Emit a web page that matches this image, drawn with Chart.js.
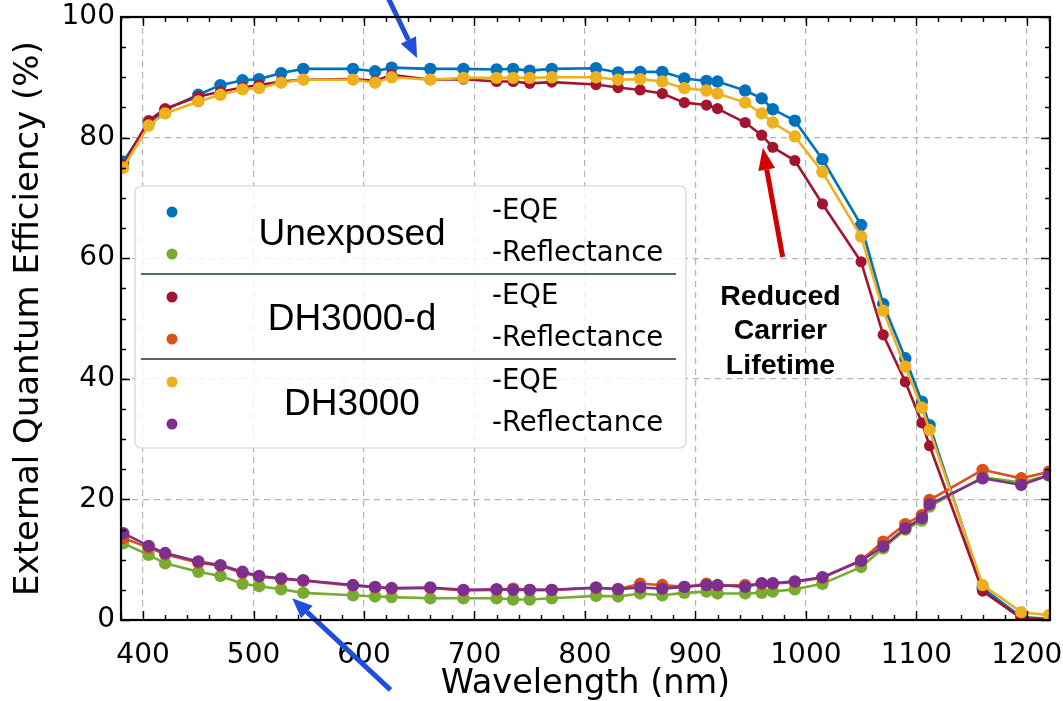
<!DOCTYPE html>
<html>
<head>
<meta charset="utf-8">
<script src="https://cdn.jsdelivr.net/npm/chart.js@4.4.1/dist/chart.umd.min.js"></script>
<style>
  html, body { margin: 0; padding: 0; background: #fff; }
  #wrap { width: 1063px; height: 701px; }
</style>
</head>
<body>
<div id="wrap"><canvas id="eqeChart"></canvas></div>
<script>
// wavelength grid shared by every measurement (nm)
const wavelengths = [382, 405, 420, 450, 470, 490, 505, 525, 545, 590, 610, 625, 660, 690, 720, 735, 750, 770, 810, 830,
  850, 870, 890, 910, 920, 945, 960, 970, 990, 1015, 1050, 1070, 1090, 1105, 1112, 1160, 1195, 1220];

// EQE (%)
const unexposedEqe = [76.0, 82.4, 84.6, 87.1, 88.7, 89.5, 89.7, 90.7, 91.4, 91.4, 91.0, 91.6, 91.4, 91.4, 91.3, 91.4, 91.1, 91.4, 91.5, 90.8,
  90.9, 90.9, 89.8, 89.4, 89.3, 87.8, 86.5, 84.7, 82.8, 76.4, 65.5, 52.4, 43.4, 36.2, 32.3, 5.3, 0.5, 0.2];
const dh3000dEqe = [75.5, 82.8, 84.8, 86.8, 87.6, 88.3, 88.7, 89.3, 89.6, 89.7, 89.4, 90.4, 89.6, 89.7, 89.3, 89.3, 89.0, 89.2, 88.8, 88.3,
  87.9, 87.3, 85.8, 85.4, 84.8, 82.5, 80.4, 78.4, 76.2, 69.0, 59.4, 47.3, 39.5, 32.7, 28.9, 4.8, 0.3, 0.0];
const dh3000Eqe = [75.0, 82.0, 84.0, 86.0, 87.1, 88.0, 88.2, 89.1, 89.6, 89.6, 89.1, 90.0, 89.6, 89.9, 89.9, 89.9, 89.9, 90.0, 90.0, 89.6,
  89.7, 89.3, 88.2, 87.8, 87.3, 85.8, 84.0, 82.5, 80.2, 74.3, 63.6, 51.3, 42.0, 35.2, 31.5, 5.8, 1.3, 0.8];

// Reflectance (%)
const unexposedRefl = [12.7, 10.8, 9.4, 8.0, 7.3, 6.0, 5.6, 5.1, 4.5, 4.1, 3.9, 3.8, 3.6, 3.6, 3.6, 3.4, 3.4, 3.6, 4.0, 3.9,
  4.4, 4.1, 4.5, 4.7, 4.4, 4.4, 4.5, 4.7, 5.1, 6.0, 8.8, 11.9, 15.0, 16.5, 18.8, 23.7, 22.8, 24.0];
const dh3000dRefl = [13.6, 12.0, 10.9, 9.5, 9.0, 7.8, 7.2, 6.8, 6.5, 5.7, 5.4, 5.2, 5.3, 4.9, 5.0, 5.2, 5.0, 5.0, 5.3, 5.1,
  6.0, 5.8, 5.5, 6.0, 5.7, 5.8, 6.0, 6.0, 6.3, 7.0, 9.9, 13.0, 15.9, 17.4, 19.9, 24.9, 23.5, 24.6];
const dh3000Refl = [14.4, 12.3, 11.1, 9.7, 9.1, 8.0, 7.3, 6.9, 6.6, 5.8, 5.5, 5.3, 5.4, 5.0, 5.1, 5.0, 5.0, 5.0, 5.4, 5.1,
  5.4, 5.2, 5.5, 5.8, 5.8, 5.5, 6.1, 6.1, 6.4, 7.1, 9.8, 12.2, 15.2, 16.9, 19.2, 23.5, 22.4, 24.0];

const xTicks = [400, 500, 600, 700, 800, 900, 1000, 1100, 1200];
const yTicks = [0, 20, 40, 60, 80, 100];

const groups = ['Unexposed', 'DH3000-d', 'DH3000'];
const series = [
  { label: 'Unexposed -EQE', values: unexposedEqe, color: '#0072BD', order: 6 },
  { label: 'Unexposed -Reflectance', values: unexposedRefl, color: '#77AC30', order: 5 },
  { label: 'DH3000-d -EQE', values: dh3000dEqe, color: '#A2142F', order: 4 },
  { label: 'DH3000-d -Reflectance', values: dh3000dRefl, color: '#D95319', order: 3 },
  { label: 'DH3000 -EQE', values: dh3000Eqe, color: '#EDB120', order: 2 },
  { label: 'DH3000 -Reflectance', values: dh3000Refl, color: '#7E2F8E', order: 1 }
];

function toPoints(values) {
  return wavelengths.map((w, i) => ({ x: w, y: values[i] }));
}

function arrow(ctx, x1, y1, x2, y2, color, shaft, headLen, headW) {
  const ang = Math.atan2(y2 - y1, x2 - x1);
  const bx = x2 - headLen * Math.cos(ang);
  const by = y2 - headLen * Math.sin(ang);
  ctx.save();
  ctx.strokeStyle = color;
  ctx.fillStyle = color;
  ctx.lineWidth = shaft;
  ctx.beginPath();
  ctx.moveTo(x1, y1);
  ctx.lineTo(bx, by);
  ctx.stroke();
  ctx.beginPath();
  ctx.moveTo(x2, y2);
  ctx.lineTo(bx + headW / 2 * Math.sin(ang), by - headW / 2 * Math.cos(ang));
  ctx.lineTo(bx - headW / 2 * Math.sin(ang), by + headW / 2 * Math.cos(ang));
  ctx.closePath();
  ctx.fill();
  ctx.restore();
}

// frame with inward ticks on all four sides, legend table and annotations
const decorations = {
  id: 'decorations',
  afterDatasetsDraw(chart) {
    const { ctx, scales: { x, y } } = chart;

    // legend box
    ctx.save();
    const lx = 135, ly = 186, lw = 551, lh = 262;
    ctx.beginPath();
    ctx.roundRect(lx, ly, lw, lh, 6);
    ctx.fillStyle = 'rgba(255,255,255,0.82)';
    ctx.fill();
    ctx.strokeStyle = '#d4d4d4';
    ctx.lineWidth = 1.2;
    ctx.stroke();

    const rowY = [212, 254, 297, 339, 382, 424];
    series.forEach((s, i) => {
      ctx.beginPath();
      ctx.arc(172, rowY[i], 5.5, 0, Math.PI * 2);
      ctx.fillStyle = s.color;
      ctx.fill();
      ctx.fillStyle = '#000';
      ctx.font = '27.5px "DejaVu Sans"';
      ctx.textAlign = 'left';
      ctx.textBaseline = 'middle';
      ctx.fillText(i % 2 === 0 ? '-EQE' : '-Reflectance', 492, rowY[i]);
    });
    ctx.font = '37px "Liberation Sans", Arial';
    ctx.textAlign = 'center';
    groups.forEach((g, i) => {
      ctx.fillText(g, 352, (rowY[2 * i] + rowY[2 * i + 1]) / 2 + 2);
    });
    ctx.strokeStyle = '#1f3349';
    ctx.lineWidth = 1.5;
    [274, 359].forEach(yy => {
      ctx.beginPath();
      ctx.moveTo(141, yy);
      ctx.lineTo(676, yy);
      ctx.stroke();
    });
    ctx.restore();

    // annotations
    arrow(ctx, x.getPixelForValue(621), y.getPixelForValue(103.5), x.getPixelForValue(648), y.getPixelForValue(93.2), '#1f4fd8', 5, 20, 17);
    arrow(ctx, x.getPixelForValue(624), y.getPixelForValue(-11.6), x.getPixelForValue(535), y.getPixelForValue(3.6), '#1f4fd8', 5, 20, 17);
    arrow(ctx, x.getPixelForValue(979), y.getPixelForValue(60.2), x.getPixelForValue(961), y.getPixelForValue(78.3), '#d00000', 5, 22, 17);

    ctx.save();
    ctx.fillStyle = '#000';
    ctx.font = 'bold 28.5px "Liberation Sans", Arial';
    ctx.textAlign = 'center';
    ctx.textBaseline = 'middle';
    const tx = x.getPixelForValue(977);
    ['Reduced', 'Carrier', 'Lifetime'].forEach((t, i) => ctx.fillText(t, tx, 297 + i * 34.5));
    ctx.restore();
  },
  afterDraw(chart) {
    const { ctx, chartArea: a, scales: { x, y } } = chart;
    ctx.save();
    ctx.strokeStyle = '#000';
    ctx.lineWidth = 1.4;
    for (let v = 380; v <= 1220; v += 20) {
      const px = Math.round(x.getPixelForValue(v)) + 0.5;
      const len = v % 100 === 0 ? 9 : 5;
      ctx.beginPath();
      ctx.moveTo(px, a.bottom); ctx.lineTo(px, a.bottom - len);
      ctx.moveTo(px, a.top); ctx.lineTo(px, a.top + len);
      ctx.stroke();
    }
    for (let v = 0; v <= 100; v += 5) {
      const py = Math.round(y.getPixelForValue(v)) + 0.5;
      const len = v % 20 === 0 ? 9 : 5;
      ctx.beginPath();
      ctx.moveTo(a.left, py); ctx.lineTo(a.left + len, py);
      ctx.moveTo(a.right, py); ctx.lineTo(a.right - len, py);
      ctx.stroke();
    }
    ctx.lineWidth = 2.2;
    ctx.strokeRect(a.left, a.top, a.right - a.left, a.bottom - a.top);
    ctx.restore();
  }
};

Chart.defaults.font.family = '"DejaVu Sans"';
Chart.defaults.color = '#000';

new Chart(document.getElementById('eqeChart'), {
  type: 'scatter',
  data: {
    datasets: series.map(s => ({
      label: s.label,
      data: toPoints(s.values),
      showLine: true,
      borderColor: s.color,
      backgroundColor: s.color,
      borderWidth: 2.6,
      pointRadius: s.color === '#A2142F' ? 5.6 : 6.2,
      pointBorderWidth: 0,
      pointBackgroundColor: s.color,
      order: s.order
    }))
  },
  options: {
    responsive: true,
    maintainAspectRatio: false,
    animation: false,
    layout: { padding: { top: 17, right: 13, left: 0, bottom: 0 } },
    plugins: {
      legend: { display: false },
      tooltip: { enabled: false }
    },
    scales: {
      x: {
        type: 'linear',
        min: 380,
        max: 1221,
        afterBuildTicks: scale => { scale.ticks = xTicks.map(v => ({ value: v })); },
        afterFit: scale => { scale.height = 81; scale.paddingLeft = 0; scale.paddingRight = 0; },
        ticks: { font: { size: 28 }, padding: 19, maxRotation: 0, callback: v => String(v) },
        grid: { color: '#b3b3b3', lineWidth: 1.2, drawTicks: false },
        border: { display: false, dash: [6, 5] },
        title: { display: true, text: 'Wavelength (nm)', font: { size: 33.5 }, padding: { top: 0, bottom: -3 } }
      },
      y: {
        type: 'linear',
        min: 0,
        max: 100,
        afterBuildTicks: scale => { scale.ticks = yTicks.map(v => ({ value: v })); },
        afterFit: scale => { scale.width = 121; scale.paddingTop = 0; scale.paddingBottom = 0; },
        ticks: { font: { size: 28 }, padding: 6, callback: v => String(v) },
        grid: { color: '#b3b3b3', lineWidth: 1.2, drawTicks: false },
        border: { display: false, dash: [6, 5] },
        title: { display: true, text: 'External Quantum Efficiency (%)', font: { size: 34 }, padding: { top: 9, bottom: 0 } }
      }
    }
  },
  plugins: [decorations]
});
</script>
</body>
</html>
